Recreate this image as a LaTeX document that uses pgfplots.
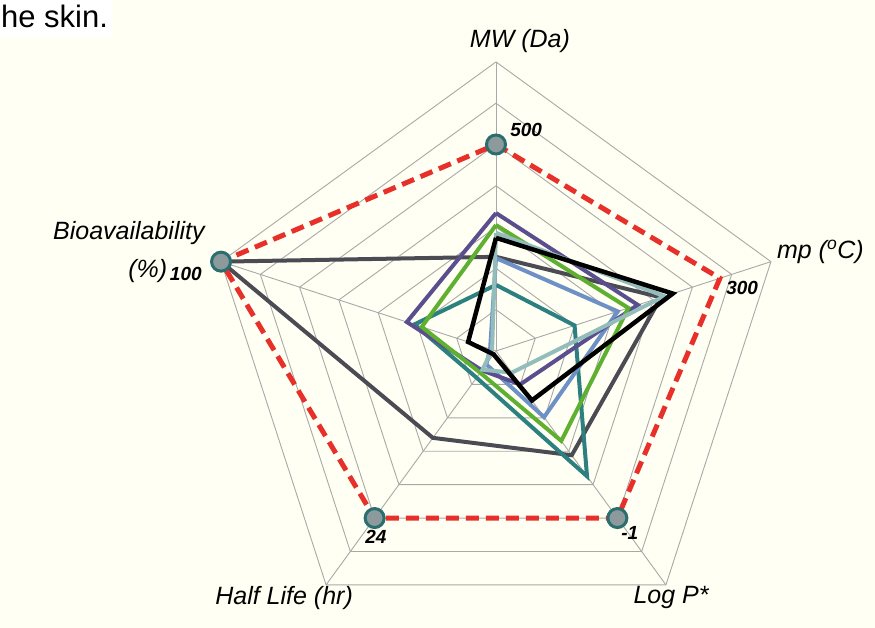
\documentclass[border=0pt]{standalone}
\usepackage{pgfplots}
\pgfplotsset{compat=1.18}
\usepackage{fontspec}
\setmainfont{Liberation Sans}
\definecolor{cream}{HTML}{FFFFF4}
\definecolor{gridc}{HTML}{A9A9A9}
\definecolor{redd}{HTML}{E8302A}
\definecolor{purp}{HTML}{5A4E8E}
\definecolor{grn}{HTML}{5FAF30}
\definecolor{lteal}{HTML}{93BDBA}
\definecolor{steel}{HTML}{6D90C6}
\definecolor{teal2}{HTML}{2D8080}
\definecolor{dgray}{HTML}{4B4B53}
\definecolor{mkfill}{HTML}{8C9A9C}
\definecolor{mkdraw}{HTML}{2B6E6F}
\tikzset{
  lab/.style={font=\fontsize{25}{30}\selectfont\itshape, inner sep=0pt},
  tlab/.style={font=\fontsize{19}{22}\selectfont\bfseries\itshape, inner sep=0pt},
}
\pgfplotstableread{
ang   red  purp grn  blk  lteal steel teal dgray
90    5.0  3.34 3.05 2.74 2.86  2.25  1.60 2.28
18    5.7  3.61 3.37 4.50 4.29  3.10  2.00 4.20
-54   5.0  1.00 2.69 1.48 0.65  1.98  3.75 3.12
-126  5.0  0.58 0.65 0.10 0.56  0.40  0.80 2.60
162   7.0  2.27 1.89 0.71 0.10  0.15  2.08 7.00
90    5.0  3.34 3.05 2.74 2.86  2.25  1.60 2.28
}\radar
\begin{document}
\begin{tikzpicture}
\begin{axis}[
  scale only axis, width=875pt, height=628pt,
  xmin=-12.0097, xmax=9.1768, ymin=-6.7070, ymax=8.4988,
  axis lines=none, ticks=none, clip=false,
  grid ring/.style={data cs=polar, draw=gridc, line width=0.9pt, mark=none},
  series/.style={data cs=polar, line width=4pt, mark=none, line join=miter},
]
\fill[cream] (axis cs:-12.0097,-6.7070) rectangle (axis cs:9.1768,8.4988);
\fill[white] (axis cs:-12.0097,8.4988) rectangle (axis cs:-9.298,7.603);
% grid rings
\addplot[grid ring] coordinates {(90,1)(18,1)(-54,1)(-126,1)(162,1)(90,1)};
\addplot[grid ring] coordinates {(90,2)(18,2)(-54,2)(-126,2)(162,2)(90,2)};
\addplot[grid ring] coordinates {(90,3)(18,3)(-54,3)(-126,3)(162,3)(90,3)};
\addplot[grid ring] coordinates {(90,4)(18,4)(-54,4)(-126,4)(162,4)(90,4)};
\addplot[grid ring] coordinates {(90,5)(18,5)(-54,5)(-126,5)(162,5)(90,5)};
\addplot[grid ring] coordinates {(90,6)(18,6)(-54,6)(-126,6)(162,6)(90,6)};
\addplot[grid ring] coordinates {(90,7)(18,7)(-54,7)(-126,7)(162,7)(90,7)};
% spokes
\addplot[grid ring] coordinates {(90,0)(90,7)};
\addplot[grid ring] coordinates {(18,0)(18,7)};
\addplot[grid ring] coordinates {(-54,0)(-54,7)};
\addplot[grid ring] coordinates {(-126,0)(-126,7)};
\addplot[grid ring] coordinates {(162,0)(162,7)};
% series
\addplot[series, dgray] table[x=ang, y=dgray] {\radar};
\addplot[series, teal2] table[x=ang, y=teal] {\radar};
\addplot[series, steel] table[x=ang, y=steel] {\radar};
\addplot[series, purp] table[x=ang, y=purp] {\radar};
\addplot[series, grn] table[x=ang, y=grn] {\radar};
\addplot[series, lteal] table[x=ang, y=lteal] {\radar};
\addplot[series, black, line width=4.5pt] table[x=ang, y=blk] {\radar};
% markers
\addplot[data cs=polar, only marks, mark=*, mark size=9.5pt,
  mark options={fill=mkfill, draw=mkdraw, line width=3pt}]
  coordinates {(90,5) (-54,5) (-126,5) (162,7)};
\addplot[series, redd, line width=5pt, dash pattern=on 13pt off 7pt]
  table[x=ang, y=red] {\radar};
% labels
\node[lab] at (axis cs:0.58,7.51) {MW (Da)};
\node[lab, anchor=west] at (axis cs:6.80,2.40) {mp (\textsuperscript{o}C)};
\node[lab] at (axis cs:4.24,-5.98) {Log P*};
\node[lab] at (axis cs:-5.13,-5.98) {Half Life (hr)};
\node[lab, anchor=east] at (axis cs:-7.05,2.86) {Bioavailability};
\node[lab] at (axis cs:-8.43,1.94) {(\%)};
\node[tlab] at (axis cs:0.73,5.35) {500};
\node[tlab] at (axis cs:5.96,1.53) {300};
\node[tlab] at (axis cs:-7.51,1.86) {100};
\node[tlab] at (axis cs:-2.91,-4.50) {24};
\node[tlab] at (axis cs:3.24,-4.41) {-1};
\node[font=\fontsize{31}{36}\selectfont, anchor=east, inner sep=0pt] at (axis cs:-9.39,8.09) {he skin.};
\end{axis}
\end{tikzpicture}
\end{document}
